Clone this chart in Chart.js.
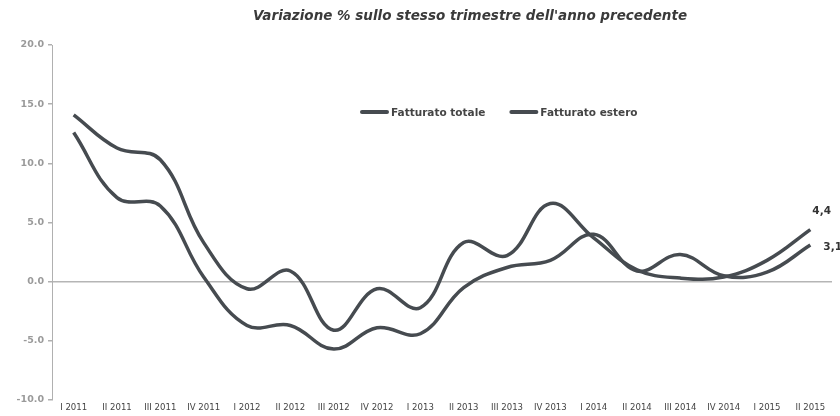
<!DOCTYPE html>
<html><head><meta charset="utf-8">
<script src="https://cdn.jsdelivr.net/npm/chart.js@4.4.1/dist/chart.umd.min.js"></script>
<style>html,body{margin:0;padding:0;background:#fff}#wrap{width:840px;height:416px}</style>
</head><body><div id="wrap"><canvas id="c" width="840" height="416"></canvas></div>
<script>
const categories = ["I 2011","II 2011","III 2011","IV 2011","I 2012","II 2012","III 2012","IV 2012","I 2013","II 2013","III 2013","IV 2013","I 2014","II 2014","III 2014","IV 2014","I 2015","II 2015"];
const fatturatoTotale = [14.1, 11.3, 10.3, 3.3, -0.6, 0.9, -4.1, -0.6, -2.2, 3.3, 2.2, 6.6, 3.7, 1.0, 0.3, 0.4, 1.8, 4.4];
const fatturatoEstero = [12.6, 7.1, 6.4, 0.4, -3.7, -3.7, -5.7, -3.9, -4.4, -0.5, 1.2, 1.8, 4.0, 0.9, 2.3, 0.5, 0.8, 3.1];
const yTicks = [20, 15, 10, 5, 0, -5, -10];
const endLabels = ["4,4", "3,1"];
const titleText = "Variazione % sullo stesso trimestre dell'anno precedente";

const lineColor = '#464b50';

const overlay = {
  id: 'overlay',
  afterDraw(chart) {
    const ctx = chart.ctx;
    ctx.save();
    // title
    ctx.font = 'italic bold 13.5px "DejaVu Sans"';
    ctx.fillStyle = '#3a3a3a';
    ctx.textAlign = 'center';
    ctx.textBaseline = 'middle';
    ctx.fillText(titleText, 470, 16);
    // legend
    ctx.font = 'bold 10.5px "DejaVu Sans"';
    ctx.textAlign = 'left';
    let x = 362;
    const y = 112;
    chart.data.datasets.forEach((ds) => {
      ctx.strokeStyle = ds.borderColor;
      ctx.lineWidth = 4;
      ctx.lineCap = 'round';
      ctx.beginPath(); ctx.moveTo(x, y); ctx.lineTo(x + 25, y); ctx.stroke();
      ctx.fillStyle = '#444';
      ctx.fillText(ds.label, x + 29, y + 1);
      x += 29 + ctx.measureText(ds.label).width + 26;
    });
    // end labels
    ctx.font = 'bold 10.5px "DejaVu Sans"';
    chart.data.datasets.forEach((ds, i) => {
      const meta = chart.getDatasetMeta(i);
      const pt = meta.data[meta.data.length - 1];
      ctx.fillStyle = '#333';
      if (i === 0) ctx.fillText(endLabels[i], pt.x + 2, pt.y - 18);
      else ctx.fillText(endLabels[i], pt.x + 13, pt.y + 2);
    });
    ctx.restore();
  }
};

new Chart(document.getElementById('c'), {
  type: 'line',
  data: {
    labels: categories,
    datasets: [
      { label: 'Fatturato totale', data: fatturatoTotale, borderColor: lineColor, borderWidth: 3.5, pointRadius: 0, tension: 0.4, fill: false },
      { label: 'Fatturato estero', data: fatturatoEstero, borderColor: lineColor, borderWidth: 3.5, pointRadius: 0, tension: 0.4, fill: false }
    ]
  },
  options: {
    responsive: false,
    animation: false,
    layout: { padding: { top: 45, right: 8, left: 0, bottom: 0 } },
    plugins: { legend: { display: false }, title: { display: false }, tooltip: { enabled: false } },
    scales: {
      x: {
        offset: true,
        border: { display: false },
        grid: { display: false, drawTicks: false },
        ticks: { autoSkip: false, maxRotation: 0, minRotation: 0, padding: 2, color: '#444', font: { family: 'DejaVu Sans Condensed', size: 9.5 } },
        afterFit(s) { s.height = 16; }
      },
      y: {
        min: -10, max: 20,
        afterBuildTicks(s) { s.ticks = yTicks.map(v => ({ value: v })); },
        border: { display: true, color: '#b0b0b0', width: 1 },
        grid: {
          color: (c) => (c.tick && c.tick.value === 0) ? '#b5b5b5' : 'rgba(0,0,0,0)',
          tickColor: '#b0b0b0', tickLength: 4, lineWidth: 1.5
        },
        ticks: { color: '#9a9a9a', padding: 4, font: { family: 'DejaVu Sans', size: 9.5, weight: 'bold' }, callback: (v) => Number(v).toFixed(1) },
        afterFit(s) { s.width = 52; }
      }
    }
  },
  plugins: [overlay]
});
</script>
</body></html>
